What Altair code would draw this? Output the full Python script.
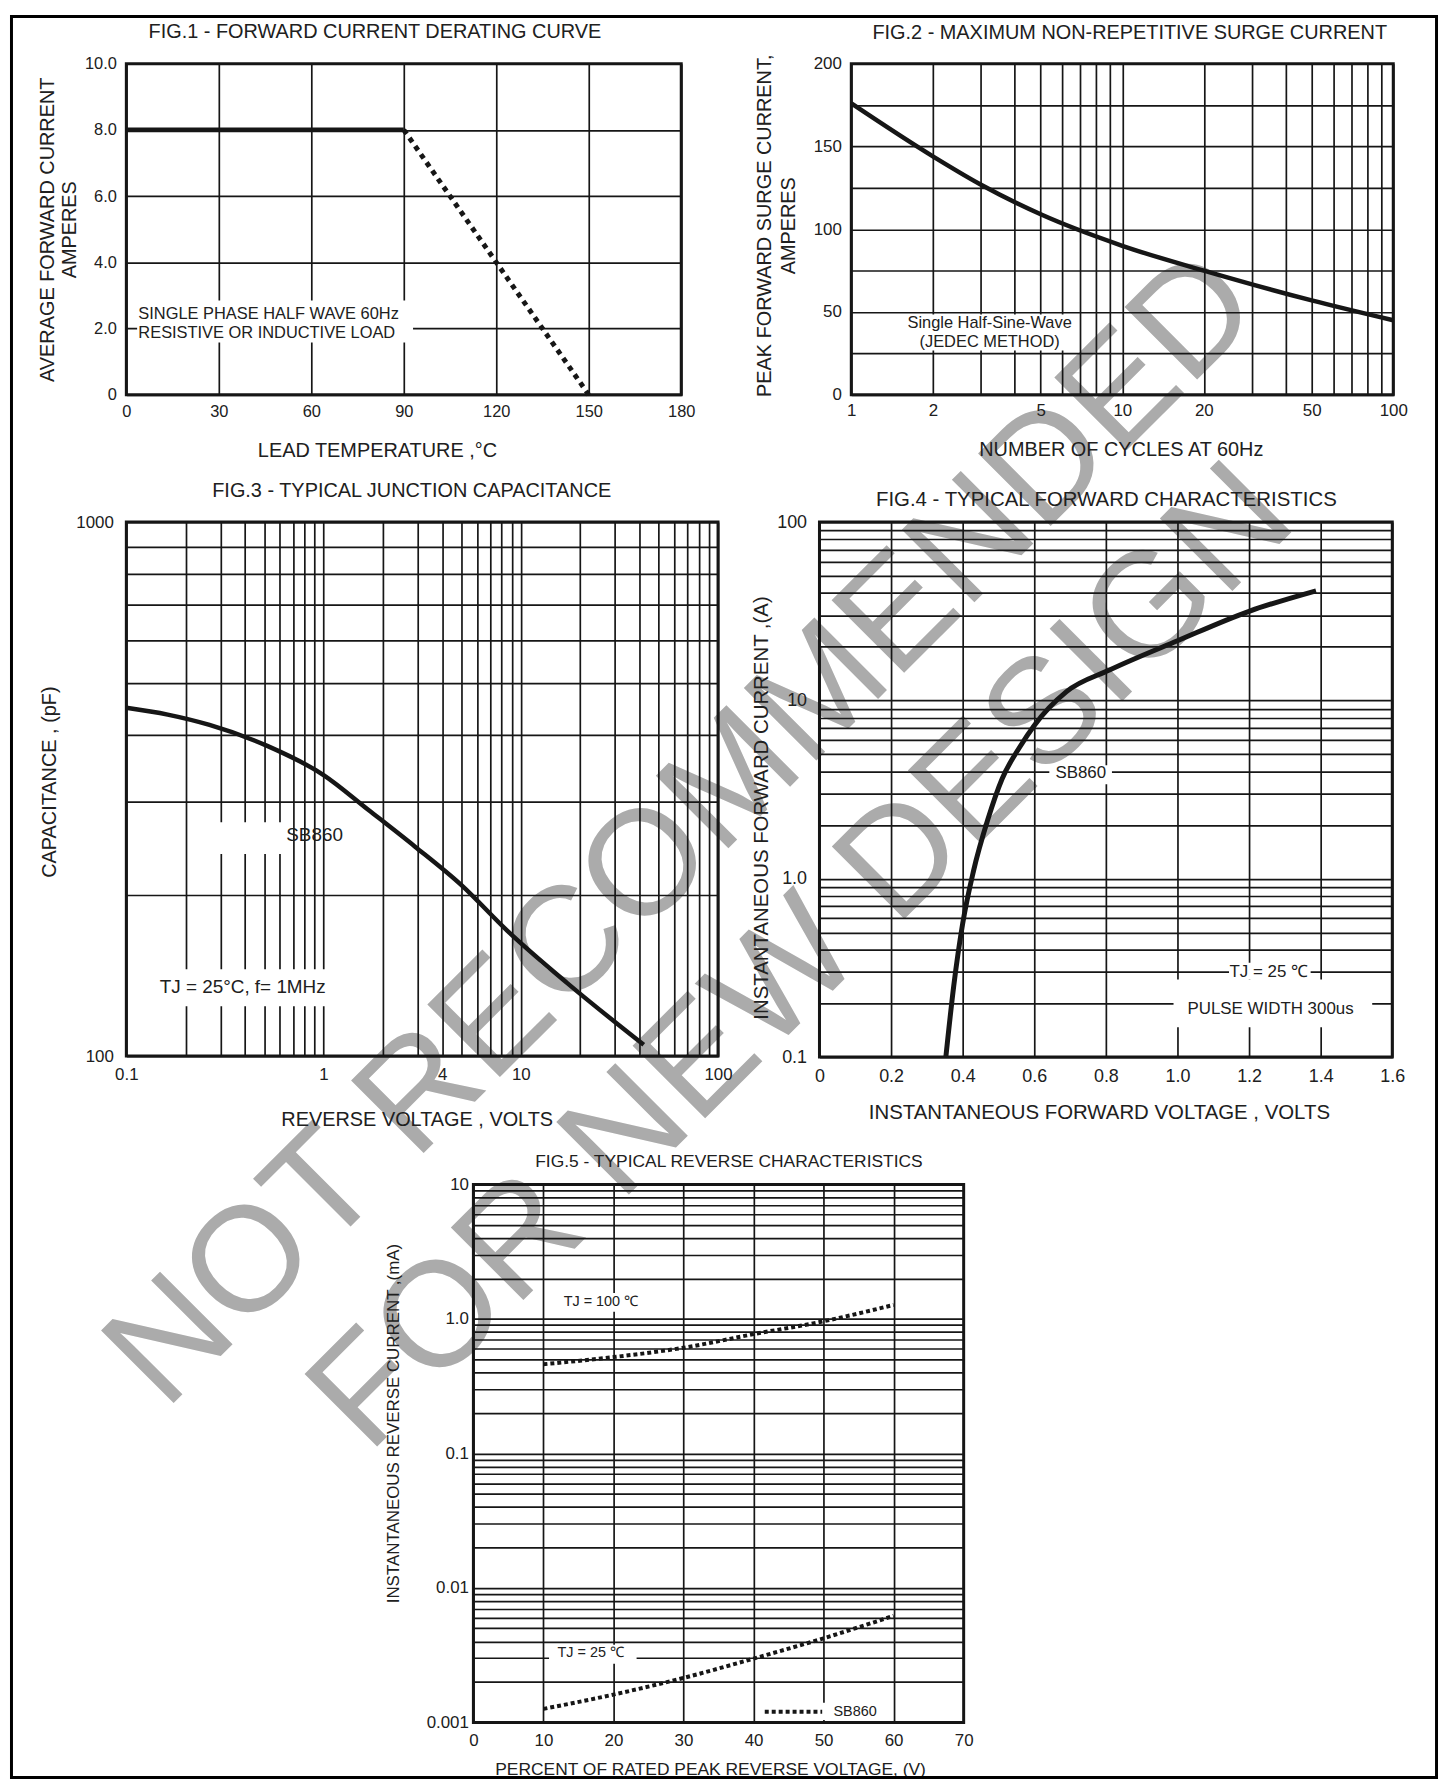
import altair as alt
import pandas as pd

FONT = "Liberation Sans"
INK = "#161616"
TXT = "#202020"
GRID_W = 1.7
WM_GRAY = "#ababab"

# ---------------- Fig.1 : forward current derating ----------------
f1_flat_temp = [0, 90]
f1_flat_amp = [8.0, 8.0]
f1_derate_temp = [90, 150]
f1_derate_amp = [8.0, 0.0]
f1_x_ticks = [0, 30, 60, 90, 120, 150, 180]
f1_y_ticks = [0, 2, 4, 6, 8, 10]
f1_note = ["SINGLE PHASE HALF WAVE 60Hz", "RESISTIVE OR INDUCTIVE LOAD"]
f1_note_x = [3.9, 3.9]
f1_note_y = [2.45, 1.88]

# ---------------- Fig.2 : surge current ----------------
f2_cycles = [1, 2, 3, 5, 10, 20, 50, 100]
f2_amps = [176, 144, 127, 109, 90, 75, 57, 45]
f2_x_ticks = [1, 2, 3, 4, 5, 6, 7, 8, 9, 10, 20, 30, 40, 50, 60, 70, 80, 90, 100]
f2_x_labeled = [1, 2, 5, 10, 20, 50, 100]
f2_y_ticks = [0, 25, 50, 75, 100, 125, 150, 175, 200]
f2_note = ["Single Half-Sine-Wave", "(JEDEC METHOD)"]
f2_note_x = [3.24, 3.24]
f2_note_y = [43.6, 32.1]

# ---------------- Fig.3 : junction capacitance ----------------
f3_volts = [0.1, 0.162, 0.264, 0.518, 1.0, 1.69, 2.9, 5.0, 8.5, 17.2, 42]
f3_pf = [449, 436, 417, 381, 336, 289, 247, 209, 172, 137, 105]
f3_x_ticks = [0.1, 0.2, 0.3, 0.4, 0.5, 0.6, 0.7, 0.8, 0.9,
              1, 2, 3, 4, 5, 6, 7, 8, 9,
              10, 20, 30, 40, 50, 60, 70, 80, 90, 100]
f3_x_labeled = [1, 4, 10, 100]
f3_y_ticks = [100, 200, 300, 400, 500, 600, 700, 800, 900, 1000]
f3_notes = ["SB860", "TJ = 25°C,  f= 1MHz"]
f3_notes_x = [0.9, 0.389]
f3_notes_y = [259, 134.6]

# ---------------- Fig.4 : forward characteristics ----------------
f4_volts = [0.353, 0.375, 0.40, 0.43, 0.47, 0.51, 0.56, 0.60, 0.69, 0.81, 1.0, 1.2, 1.387]
f4_amps = [0.1, 0.25, 0.56, 1.1, 2.14, 3.63, 5.5, 7.24, 11.2, 14.8, 21.6, 31.6, 41.2]
f4_x_ticks = [0, 0.2, 0.4, 0.6, 0.8, 1.0, 1.2, 1.4, 1.6]
f4_y_ticks = [0.1, 0.2, 0.3, 0.4, 0.5, 0.6, 0.7, 0.8, 0.9,
              1, 2, 3, 4, 5, 6, 7, 8, 9,
              10, 20, 30, 40, 50, 60, 70, 80, 90, 100]
f4_notes = ["SB860", "TJ = 25 ℃", "PULSE WIDTH 300us"]
f4_notes_x = [0.73, 1.255, 1.26]
f4_notes_y = [3.9, 0.301, 0.187]

# ---------------- Fig.5 : reverse characteristics ----------------
f5_pct = [10, 20, 30, 40, 50, 60]
f5_tj100 = [0.46, 0.52, 0.61, 0.77, 0.96, 1.27]
f5_tj25 = [0.00126, 0.00161, 0.00214, 0.00298, 0.00422, 0.0062]
f5_x_ticks = [0, 10, 20, 30, 40, 50, 60, 70]
f5_y_ticks = [0.001, 0.002, 0.003, 0.004, 0.005, 0.006, 0.007, 0.008, 0.009,
              0.01, 0.02, 0.03, 0.04, 0.05, 0.06, 0.07, 0.08, 0.09,
              0.1, 0.2, 0.3, 0.4, 0.5, 0.6, 0.7, 0.8, 0.9,
              1, 2, 3, 4, 5, 6, 7, 8, 9, 10]
f5_notes = ["TJ = 100 ℃", "TJ = 25 ℃", "SB860"]
f5_notes_x = [18.2, 16.75, 54.5]
f5_notes_y = [1.34, 0.00329, 0.0012]
f5_legend_x = [41.6, 49.8]
f5_legend_y = [0.0012, 0.0012]

titles = ["FIG.1 - FORWARD CURRENT DERATING CURVE",
          "FIG.2 - MAXIMUM NON-REPETITIVE SURGE CURRENT",
          "FIG.3 - TYPICAL JUNCTION CAPACITANCE",
          "FIG.4 - TYPICAL FORWARD CHARACTERISTICS",
          "FIG.5 - TYPICAL REVERSE CHARACTERISTICS"]
watermark = ["NOT RECOMMENDED", "FOR NEW DESIGN"]


def axis(values, label_expr, label_size, pad, title, title_size, tx, ty,
         vertical=False, line_height=None):
    kw = dict(values=values, labelExpr=label_expr, grid=True, gridColor=INK,
              gridWidth=GRID_W, gridOpacity=1, domain=False, ticks=False,
              labelFont=FONT, labelFontSize=label_size, labelColor=TXT,
              labelPadding=pad, labelFlush=False, labelOverlap=False,
              title=title, titleFont=FONT, titleFontSize=title_size,
              titleFontWeight="normal", titleColor=TXT, titleX=tx, titleY=ty,
              titleAlign="center")
    if vertical:
        kw.update(titleAngle=270, titleBaseline="middle")
    else:
        kw.update(titleAngle=0, titleBaseline="alphabetic")
    if line_height:
        kw["titleLineHeight"] = line_height
    return alt.Axis(**kw)


def heading(text, size, px, py):
    return alt.Chart(pd.DataFrame({"t": [text]})).mark_text(
        font=FONT, fontSize=size, color=TXT, align="center", baseline="alphabetic"
    ).encode(x=alt.value(px), y=alt.value(py), text="t:N")


def box(df, X, Y):
    return alt.Chart(df).mark_rect(color="white").encode(x=X, x2="x2:Q", y=Y, y2="y2:Q")


def notes(df, X, Y, size, align="center"):
    return alt.Chart(df).mark_text(font=FONT, fontSize=size, color=TXT, align=align,
                                   baseline="middle").encode(x=X, y=Y, text="t:N")


def spacer(w, h=1):
    return alt.Chart(pd.DataFrame({"x": [0]})).mark_point(opacity=0).encode(
        x=alt.X("x:Q", axis=None), y=alt.Y("x:Q", axis=None)
    ).properties(width=w, height=h, view=alt.ViewBackground(stroke="transparent"))


# watermark: drawn first (inside Fig.1's group) so every later panel paints over it
wm_base = dict(font=FONT, fontSize=150, align="center", baseline="middle", angle=315,
               color=WM_GRAY)
wm_pos = [(560, 771), (680, 899)]   # pixel offsets from Fig.1's plot origin
wm_layers = [
    alt.Chart(pd.DataFrame({"t": [txt]})).mark_text(**wm_base).encode(
        x=alt.value(px), y=alt.value(py), text="t:N")
    for txt, (px, py) in zip(watermark, wm_pos)
]

# ================= Fig.1 =================
W1, H1 = 558, 333
X1 = alt.X("x:Q", scale=alt.Scale(domain=[0, 180], nice=False, zero=False),
           axis=axis(f1_x_ticks, "format(datum.value, 'd')", 16.5, 9,
                     "LEAD TEMPERATURE ,°C", 20, 252, 62))
Y1 = alt.Y("y:Q", scale=alt.Scale(domain=[0, 10], nice=False, zero=False),
           axis=axis(f1_y_ticks, "datum.value == 0 ? '0' : format(datum.value, '.1f')", 16.5, 10,
                     ["AVERAGE FORWARD CURRENT", "AMPERES"], 20, -79, H1 / 2,
                     vertical=True, line_height=22))
f1 = alt.layer(
    *wm_layers,
    box(pd.DataFrame({"x": [3.5], "x2": [93], "y": [1.58], "y2": [2.85]}), X1, Y1),
    alt.Chart(pd.DataFrame({"x": f1_flat_temp, "y": f1_flat_amp})).mark_line(
        color=INK, strokeWidth=5).encode(x=X1, y=Y1),
    alt.Chart(pd.DataFrame({"x": f1_derate_temp, "y": f1_derate_amp})).mark_line(
        color=INK, strokeWidth=5, strokeDash=[5, 5]).encode(x=X1, y=Y1),
    notes(pd.DataFrame({"x": f1_note_x, "y": f1_note_y, "t": f1_note}), X1, Y1, 16.5, "left"),
    heading(titles[0], 20, W1 / 2 - 29, -26),
).properties(width=W1, height=H1)

# ================= Fig.2 =================
W2, H2 = 545, 333
X2 = alt.X("x:Q", scale=alt.Scale(type="log", domain=[1, 100], nice=False),
           axis=axis(f2_x_ticks,
                     f"indexof({f2_x_labeled}, datum.value) >= 0 ? format(datum.value, 'd') : ''",
                     17, 8, "NUMBER OF CYCLES AT 60Hz", 20, 271, 61))
Y2 = alt.Y("y:Q", scale=alt.Scale(domain=[0, 200], nice=False, zero=False),
           axis=axis(f2_y_ticks, "datum.value % 50 == 0 ? format(datum.value, 'd') : ''", 17, 10,
                     ["PEAK FORWARD SURGE CURRENT,", "AMPERES"], 20, -87, H2 / 2 - 4,
                     vertical=True, line_height=24))
f2 = alt.layer(
    box(pd.DataFrame({"x": [1.51], "x2": [6.87], "y": [26.7], "y2": [48.5]}), X2, Y2),
    alt.Chart(pd.DataFrame({"x": f2_cycles, "y": f2_amps})).mark_line(
        color=INK, strokeWidth=4.5, interpolate="monotone").encode(x=X2, y=Y2),
    notes(pd.DataFrame({"x": f2_note_x, "y": f2_note_y, "t": f2_note}), X2, Y2, 16.5),
    heading(titles[1], 20, W2 / 2 + 7.5, -25),
).properties(width=W2, height=H2)

# ================= Fig.3 =================
W3, H3 = 595, 537
X3 = alt.X("x:Q", scale=alt.Scale(type="log", domain=[0.1, 100], nice=False),
           axis=axis(f3_x_ticks,
                     f"datum.value == 0.1 ? '0.1' : indexof({f3_x_labeled}, datum.value) >= 0 ? format(datum.value, 'd') : ''",
                     17, 11, "REVERSE VOLTAGE , VOLTS", 20, 292, 70))
Y3 = alt.Y("y:Q", scale=alt.Scale(type="log", domain=[100, 1000], nice=False),
           axis=axis(f3_y_ticks,
                     "indexof([100, 1000], datum.value) >= 0 ? format(datum.value, 'd') : ''",
                     17, 13, "CAPACITANCE , (pF)", 20, -77, 261, vertical=True))
f3 = alt.layer(
    box(pd.DataFrame({"x": [0.253, 0.145], "x2": [0.649, 1.11],
                      "y": [239, 124], "y2": [274, 145.4]}), X3, Y3),
    alt.Chart(pd.DataFrame({"x": f3_volts, "y": f3_pf})).mark_line(
        color=INK, strokeWidth=4.5, interpolate="monotone").encode(x=X3, y=Y3),
    notes(pd.DataFrame({"x": f3_notes_x, "y": f3_notes_y, "t": f3_notes}), X3, Y3, 19),
    heading(titles[2], 20, W3 / 2 - 10.5, -25),
).properties(width=W3, height=H3)

# ================= Fig.4 =================
W4, H4 = 576, 538
X4 = alt.X("x:Q", scale=alt.Scale(domain=[0, 1.6], nice=False, zero=False),
           axis=axis(f4_x_ticks, "datum.value == 0 ? '0' : format(datum.value, '.1f')",
                     18, 11, "INSTANTANEOUS FORWARD VOLTAGE , VOLTS", 20.5, 281, 62))
Y4 = alt.Y("y:Q", scale=alt.Scale(type="log", domain=[0.1, 100], nice=False),
           axis=axis(f4_y_ticks,
                     "datum.value == 100 ? '100' : datum.value == 10 ? '10' : datum.value == 1 ? '1.0' : datum.value == 0.1 ? '0.1' : ''",
                     18, 13, "INSTANTANEOUS  FORWARD CURRENT ,(A)", 20.5, -58, 287,
                     vertical=True))
f4 = alt.layer(
    box(pd.DataFrame({"x": [0.642, 1.144, 0.989], "x2": [0.817, 1.372, 1.544],
                      "y": [3.39, 0.272, 0.147], "y2": [4.33, 0.338, 0.272]}), X4, Y4),
    alt.Chart(pd.DataFrame({"x": f4_volts, "y": f4_amps})).mark_line(
        color=INK, strokeWidth=5, interpolate="monotone").encode(x=X4, y=Y4),
    notes(pd.DataFrame({"x": f4_notes_x, "y": f4_notes_y, "t": f4_notes}), X4, Y4, 17),
    heading(titles[3], 20.5, W4 / 2 + 0.5, -16),
).properties(width=W4, height=H4)

# ================= Fig.5 =================
W5, H5 = 493, 541
X5 = alt.X("x:Q", scale=alt.Scale(domain=[0, 70], nice=False, zero=False),
           axis=axis(f5_x_ticks, "format(datum.value, 'd')", 17, 10,
                     "PERCENT OF RATED PEAK REVERSE VOLTAGE, (V)", 17.5, 238, 52))
Y5 = alt.Y("y:Q", scale=alt.Scale(type="log", domain=[0.001, 10], nice=False),
           axis=axis(f5_y_ticks,
                     "datum.value == 10 ? '10' : datum.value == 1 ? '1.0' : datum.value == 0.1 ? '0.1' : datum.value == 0.01 ? '0.01' : datum.value == 0.001 ? '0.001' : ''",
                     17, 5, "INSTANTANEOUS  REVERSE  CURRENT ,(mA)", 17, -80, 240,
                     vertical=True))

frame = alt.Chart(pd.DataFrame({"t": ["frame"]})).mark_rect(
    filled=False, stroke="black", strokeWidth=3).encode(
    x=alt.value(-464.5), x2=alt.value(968.5), y=alt.value(-1174.5), y2=alt.value(596.5))

f5 = alt.layer(
    box(pd.DataFrame({"x": [12.5, 10.8, 40.6], "x2": [23.9, 23.3, 58.6],
                      "y": [1.13, 0.00273, 0.00104], "y2": [1.56, 0.00378, 0.0014]}), X5, Y5),
    alt.Chart(pd.DataFrame({"x": f5_pct, "y": f5_tj100})).mark_line(
        color=INK, strokeWidth=4, strokeDash=[4, 3], interpolate="monotone").encode(x=X5, y=Y5),
    alt.Chart(pd.DataFrame({"x": f5_pct, "y": f5_tj25})).mark_line(
        color=INK, strokeWidth=4, strokeDash=[4, 3], interpolate="monotone").encode(x=X5, y=Y5),
    alt.Chart(pd.DataFrame({"x": f5_legend_x, "y": f5_legend_y})).mark_line(
        color=INK, strokeWidth=4, strokeDash=[4, 3]).encode(x=X5, y=Y5),
    notes(pd.DataFrame({"x": f5_notes_x, "y": f5_notes_y, "t": f5_notes}), X5, Y5, 14.5),
    heading(titles[4], 17.5, W5 / 2 + 10.5, -17.5),
    frame,
).properties(width=W5, height=H5)

# rows are flush hconcats; vertical gaps are set by invisible spacer units
row1 = alt.hconcat(f1, spacer(171), f2, spacing=0, bounds="flush")
row2 = alt.hconcat(f3, spacer(102), f4, spacing=0, bounds="flush")
row3 = alt.hconcat(spacer(349), f5, spacing=0, bounds="flush")

chart = alt.vconcat(
    row1, spacer(1, 461), row2, spacer(1, 666), row3,
    spacing=0, bounds="flush",
).properties(padding=0).configure(background="white").configure_view(stroke=INK, strokeWidth=3)

chart.save("out.html", embed_options={"renderer": "svg", "actions": False})
